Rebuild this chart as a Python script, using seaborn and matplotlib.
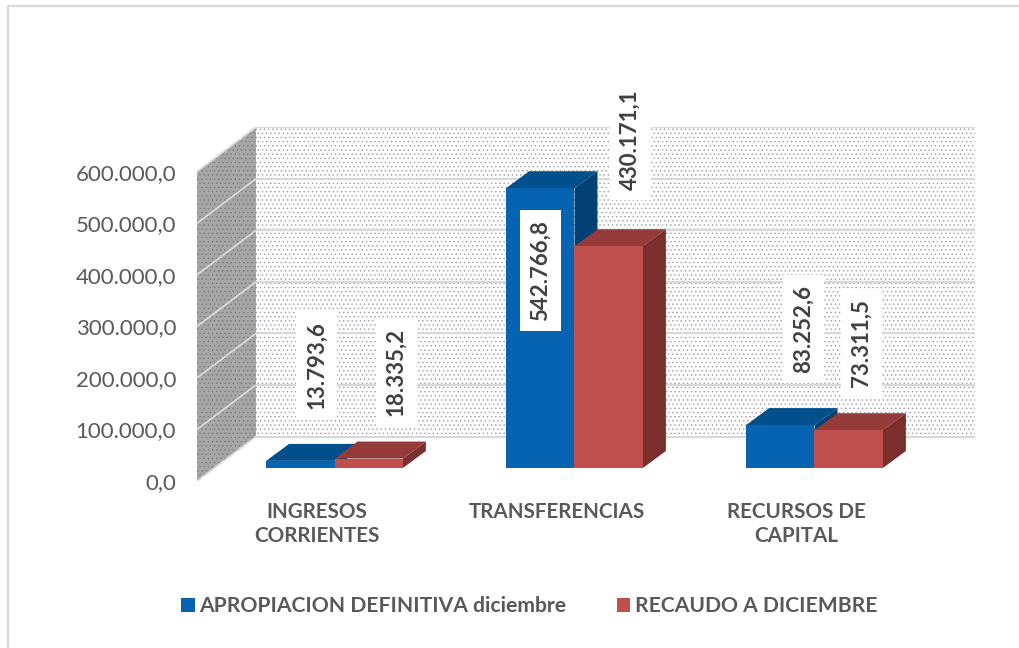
"""Recreates the 3D-look clustered bar chart: apropiacion vs recaudo a diciembre."""
import matplotlib
matplotlib.use("Agg")
import matplotlib.pyplot as plt
import pandas as pd
import seaborn as sns
from matplotlib.patches import Polygon

CATEGORIES = ["INGRESOS\nCORRIENTES", "TRANSFERENCIAS", "RECURSOS DE\nCAPITAL"]
SERIES = ["APROPIACION DEFINITIVA diciembre", "RECAUDO A DICIEMBRE"]
APROPIACION = [13793.6, 542766.8, 83252.6]
RECAUDO = [18335.2, 430171.1, 73311.5]
TICK_VALUES = [0, 100000, 200000, 300000, 400000, 500000, 600000]

# Layout of the fake 3D box, in image pixels.
W, H = 1020, 648
PX_PER_UNIT = 0.5155 / 1000
PX_PER_CAT = 240.0
CAT0_PX = 334.5
ZERO_PX = 468.0
WALL_L, WALL_R, WALL_DX, WALL_DY = 197.0, 975.0, 59.0, 44.5
FRONT_ZERO_PX = 481.0
BAR_DX, BAR_DY = 23.0, 17.0
LABEL_TEXT = "#404040"
TEXT = "#595959"
BLUE = ("#0563B1", "#01508C", "#024074")
RED = ("#C0504D", "#943A38", "#7A2F2D")
# label centre minus bar top centre, px (x right, y up)
LABEL_OFFSETS = [
    [(16, 96), (0, -82), (23, 96)],
    [(27.5, 87), (21.5, 107), (12.5, 87)],
]

sns.set_theme(style="white")
plt.rcParams["font.family"] = ["Lato", "DejaVu Sans"]
plt.rcParams["hatch.linewidth"] = 0.5


def px(x, y):
    return (x - CAT0_PX) / PX_PER_CAT, (ZERO_PX - y) / PX_PER_UNIT


def fmt(v):
    return f"{v:,.1f}".replace(",", "#").replace(".", ",").replace("#", ".")


df = pd.DataFrame({
    "cat": CATEGORIES * 2,
    "serie": [SERIES[0]] * 3 + [SERIES[1]] * 3,
    "valor": APROPIACION + RECAUDO,
})

fig = plt.figure(figsize=(W / 100, H / 100), dpi=100)
ax = fig.add_axes([WALL_L / W, 1 - FRONT_ZERO_PX / H,
                   (WALL_R - WALL_L) / W, (FRONT_ZERO_PX - 127.0) / H])
sns.barplot(data=df, x="cat", y="valor", hue="serie", hue_order=SERIES,
            palette=[BLUE[0], RED[0]], saturation=1, width=0.57, gap=0,
            linewidth=0, ax=ax, zorder=5)

ax.set_xlim(px(WALL_L, 0)[0], px(WALL_R, 0)[0])
ax.set_ylim(px(0, FRONT_ZERO_PX)[1], px(0, 127.0)[1])
ax.patch.set_visible(False)
sns.despine(ax=ax, left=True, bottom=True)
ax.set_xlabel("")
ax.set_ylabel("")

# walls
back_l = WALL_L + WALL_DX
back_zero = FRONT_ZERO_PX - WALL_DY
h600 = 600000 * PX_PER_UNIT
ax.add_patch(Polygon([px(back_l, back_zero), px(WALL_R, back_zero),
                      px(WALL_R, back_zero - h600), px(back_l, back_zero - h600)],
                     facecolor="white", edgecolor="#9c9ca8", hatch="....",
                     lw=0, zorder=1))
ax.add_patch(Polygon([px(WALL_L, FRONT_ZERO_PX), px(back_l, back_zero),
                      px(back_l, back_zero - h600), px(WALL_L, FRONT_ZERO_PX - h600)],
                     facecolor="#A6A6A6", edgecolor="#7a7a7a", hatch="....",
                     lw=0, zorder=1))
for v in TICK_VALUES:
    dy = v * PX_PER_UNIT
    ax.plot(*zip(px(back_l, back_zero - dy), px(WALL_R, back_zero - dy)),
            color="#D9D9D9", lw=1.6, zorder=2, solid_capstyle="butt")
    ax.plot(*zip(px(WALL_L, FRONT_ZERO_PX - dy), px(back_l, back_zero - dy)),
            color="#D9D9D9", lw=1.3, zorder=2, solid_capstyle="butt")

# bar tops and sides, then labels
for s, (cont, cols) in enumerate(zip(ax.containers, (BLUE, RED))):
    base_z = 5 + s
    for i, bar in enumerate(cont):
        x0, x1 = bar.get_x(), bar.get_x() + bar.get_width()
        top = bar.get_height()
        ddx, ddy = BAR_DX / PX_PER_CAT, BAR_DY / PX_PER_UNIT
        ax.add_patch(Polygon([(x0, top), (x1, top), (x1 + ddx, top + ddy), (x0 + ddx, top + ddy)],
                             facecolor=cols[1], lw=0, zorder=base_z))
        ax.add_patch(Polygon([(x1, 0), (x1 + ddx, ddy), (x1 + ddx, top + ddy), (x1, top)],
                             facecolor=cols[2], lw=0, zorder=base_z))
        bar.set_zorder(base_z + 0.5)
        off = LABEL_OFFSETS[s][i]
        ax.annotate(fmt(top), xy=(bar.get_x() + bar.get_width() / 2, top),
                    xytext=(off[0] * 0.72, off[1] * 0.72), textcoords="offset points",
                    rotation=90, ha="center", va="center", rotation_mode="anchor",
                    fontsize=16, fontweight="bold", color=LABEL_TEXT, zorder=9,
                    bbox=dict(boxstyle="square,pad=0.45", fc="white", ec="none"))

# ticks
ax.set_yticks([v + px(0, FRONT_ZERO_PX)[1] for v in TICK_VALUES])
ax.set_yticklabels([fmt(v) for v in TICK_VALUES], fontsize=16, color=TEXT)
ax.tick_params(axis="y", length=0, pad=15)
ax.set_xticks([i - 18 / PX_PER_CAT for i in range(3)])
ax.set_xticklabels(CATEGORIES, fontsize=14.9, fontweight="bold", color=TEXT, linespacing=1.25)
ax.tick_params(axis="x", length=0, pad=15)

handles, labels = ax.get_legend_handles_labels()
ax.legend(handles, labels, ncol=2, loc="center", bbox_to_anchor=(529 / W, 1 - 606 / H),
          bbox_transform=fig.transFigure, frameon=False,
          prop={"weight": "bold", "size": 15.2}, labelcolor=TEXT,
          handlelength=0.65, handleheight=0.65, handletextpad=0.2, columnspacing=2.4)

# page frame: left and top only
fig.add_artist(plt.Line2D([8 / W, 8 / W], [0, 1 - 6 / H], color="#D9D9D9", lw=1.6))
fig.add_artist(plt.Line2D([8 / W, 1], [1 - 6 / H, 1 - 6 / H], color="#D9D9D9", lw=1.6))

fig.savefig("out.png", dpi=100, facecolor="white")
